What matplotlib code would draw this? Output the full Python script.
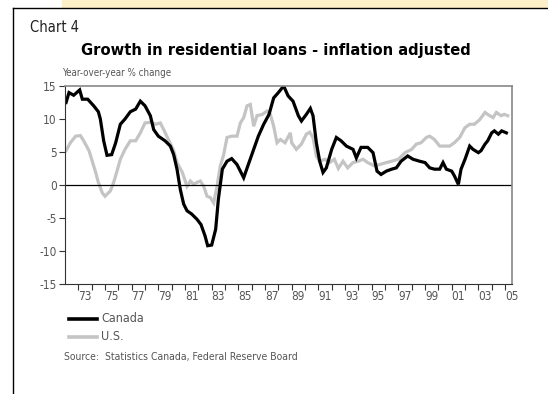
import matplotlib.pyplot as plt
from matplotlib.lines import Line2D

# données
can_years = [1972.08, 1972.3, 1972.65, 1973.1, 1973.3, 1973.7, 1974.15, 1974.5, 1974.65, 1974.9,
             1975.15, 1975.5, 1975.8, 1976.15, 1976.5, 1976.9, 1977.3, 1977.65, 1978.0, 1978.4,
             1978.65, 1979.0, 1979.5, 1979.9, 1980.15, 1980.4, 1980.65, 1980.9, 1981.15, 1981.5,
             1981.9, 1982.2, 1982.5, 1982.7, 1983.0, 1983.3, 1983.5, 1983.8, 1984.15, 1984.5,
             1984.9, 1985.4, 1985.8, 1986.15, 1986.5, 1986.9, 1987.3, 1987.65, 1988.0, 1988.4,
             1988.73, 1989.1, 1989.5, 1989.73, 1990.1, 1990.4, 1990.6, 1990.85, 1991.1, 1991.35,
             1991.6, 1992.0, 1992.35, 1992.7, 1993.1, 1993.6, 1993.85, 1994.2, 1994.7, 1995.1,
             1995.4, 1995.7, 1996.1, 1996.5, 1996.85, 1997.2, 1997.7, 1998.1, 1998.6, 1999.0,
             1999.35, 1999.7, 2000.1, 2000.35, 2000.6, 2001.0, 2001.2, 2001.5, 2001.7, 2002.0,
             2002.35, 2002.6, 2003.0, 2003.2, 2003.5, 2003.7, 2004.0, 2004.2, 2004.5, 2004.75,
             2005.1]
can_values = [12.5, 14.0, 13.6, 14.4, 13.0, 13.0, 12.0, 11.1, 10.0, 6.7,
              4.5, 4.6, 6.4, 9.2, 10.0, 11.1, 11.5, 12.7, 12.0, 10.5,
              8.4, 7.4, 6.7, 5.9, 4.6, 2.4, -0.7, -2.9, -3.9, -4.4,
              -5.2, -6.0, -7.7, -9.2, -9.1, -6.7, -2.2, 2.4, 3.6, 4.0,
              3.1, 1.1, 3.4, 5.4, 7.4, 9.2, 10.7, 13.2, 14.0, 15.0,
              13.5, 12.7, 10.5, 9.7, 10.7, 11.6, 10.5, 6.4, 3.6, 1.9,
              2.6, 5.4, 7.2, 6.7, 5.9, 5.4, 4.1, 5.7, 5.7, 4.9,
              2.1, 1.6, 2.1, 2.4, 2.6, 3.6, 4.4, 3.9, 3.6, 3.4,
              2.6, 2.4, 2.4, 3.4, 2.4, 2.1, 1.4, 0.1, 2.4, 3.9,
              5.9, 5.4, 4.9, 5.2, 6.2, 6.7, 7.9, 8.2, 7.7, 8.2,
              7.9]

us_years = [1972.08, 1972.4, 1972.8, 1973.15, 1973.4, 1973.8, 1974.0, 1974.3, 1974.5, 1974.8,
            1975.0, 1975.4, 1975.65, 1975.9, 1976.15, 1976.5, 1976.9, 1977.3, 1977.65, 1978.0,
            1978.4, 1978.8, 1979.15, 1979.4, 1979.8, 1980.15, 1980.4, 1980.8, 1981.15, 1981.4,
            1981.65, 1981.9, 1982.15, 1982.4, 1982.65, 1982.9, 1983.15, 1983.4, 1983.65, 1983.9,
            1984.15, 1984.5, 1984.9, 1985.15, 1985.4, 1985.65, 1985.9, 1986.15, 1986.4, 1986.8,
            1987.15, 1987.4, 1987.65, 1987.9, 1988.15, 1988.5, 1988.9, 1989.0, 1989.35, 1989.73,
            1990.1, 1990.35, 1990.6, 1990.85, 1991.1, 1991.5, 1991.85, 1992.2, 1992.5, 1992.85,
            1993.2, 1993.6, 1994.0, 1994.35, 1994.7, 1995.2, 1995.6, 1996.1, 1996.5, 1997.0,
            1997.5, 1998.0, 1998.35, 1998.7, 1999.1, 1999.35, 1999.7, 2000.1, 2000.5, 2000.85,
            2001.2, 2001.6, 2002.0, 2002.35, 2002.7, 2003.1, 2003.5, 2003.7, 2004.1, 2004.35,
            2004.7, 2004.95, 2005.2]
us_values = [5.2, 6.4, 7.4, 7.5, 6.7, 5.2, 3.9, 1.9, 0.4, -1.2,
             -1.7, -0.9, 0.4, 2.1, 3.9, 5.4, 6.7, 6.7, 7.9, 9.4,
             9.5, 9.2, 9.4, 8.4, 6.7, 5.2, 3.4, 1.9, -0.2, 0.6,
             0.1, 0.4, 0.6, -0.2, -1.7, -1.9, -2.7, -0.2, 2.9, 4.6,
             7.2, 7.4, 7.4, 9.4, 10.2, 12.0, 12.2, 8.9, 10.5, 10.7,
             11.2, 10.7, 8.9, 6.4, 6.9, 6.4, 7.9, 6.4, 5.4, 6.2,
             7.7, 8.0, 7.2, 4.4, 3.6, 3.9, 3.4, 3.9, 2.5, 3.6,
             2.6, 3.4, 3.6, 3.9, 3.4, 2.9, 3.1, 3.4, 3.6, 3.9,
             4.9, 5.4, 6.2, 6.4, 7.2, 7.4, 6.9, 5.9, 5.9, 5.9,
             6.4, 7.2, 8.7, 9.2, 9.2, 9.9, 11.0, 10.7, 10.2, 11.0,
             10.5, 10.7, 10.5]

yticks = [-15, -10, -5, 0, 5, 10, 15]
year_labels = ['73', '75', '77', '79', '81', '83', '85', '87', '89', '91',
               '93', '95', '97', '99', '01', '03', '05']

# police étroite, comme l'original
plt.rcParams['font.family'] = ['DejaVu Sans']
plt.rcParams['font.stretch'] = 'condensed'

fig = plt.figure(figsize=(5.48, 3.94), dpi=100)

# cadre et bandeau jaune en haut
fig.patches.append(plt.Rectangle((62 / 548, 1 - 7 / 394), 1, 7 / 394,
                                 transform=fig.transFigure, color='#fdf0c8', zorder=0))
fig.add_artist(Line2D([13 / 548, 13 / 548], [0, 1 - 8 / 394], color='black', lw=1.0))
fig.add_artist(Line2D([13 / 548, 1], [1 - 8 / 394, 1 - 8 / 394], color='black', lw=1.0))

ax = fig.add_axes([65 / 548, 1 - 284 / 394, (511.7 - 65) / 548, (284 - 86) / 394])

ax.plot(us_years, us_values, color='#c4c4c4', lw=2.3, solid_joinstyle='miter')
ax.plot(can_years, can_values, color='black', lw=2.3, solid_joinstyle='miter')
ax.axhline(0, color='black', lw=0.9)

ax.set_xlim(1972, 2005.5)
ax.set_ylim(-15, 15)
ax.set_yticks(yticks)
ax.set_yticklabels([str(v) for v in yticks])

# traits aux frontières d'année, étiquettes au milieu des années impaires
ax.set_xticks(range(1973, 2006))
ax.set_xticklabels([])
ax.set_xticks([1973.5 + 2 * i for i in range(len(year_labels))], minor=True)
ax.set_xticklabels(year_labels, minor=True)
ax.tick_params(axis='x', which='major', direction='out', length=4, width=0.8, color='#333333')
ax.tick_params(axis='x', which='minor', length=0, pad=4, labelsize=8.5, labelcolor='#555555')
ax.tick_params(axis='y', direction='out', length=4, width=0.8, color='#333333',
               labelsize=8.5, labelcolor='#555555', pad=2)

for side in ['left', 'bottom']:
    ax.spines[side].set_color('#333333')
for side in ['top', 'right']:
    ax.spines[side].set_color('#888888')
    ax.spines[side].set_linewidth(1.2)

# textes
fig.text(30 / 548, 1 - 27 / 394, 'Chart 4', fontsize=10.5, color='#222222', va='center')
fig.text(276 / 548, 1 - 50 / 394, 'Growth in residential loans - inflation adjusted',
         fontsize=11.8, fontweight='bold', ha='center', va='center')
fig.text(62 / 548, 1 - 73 / 394, 'Year-over-year % change', fontsize=7,
         color='#555555', va='center')

# légende dessinée à la main
fig.add_artist(Line2D([69 / 548, 97 / 548], [1 - 319 / 394] * 2, color='black', lw=2.6))
fig.add_artist(Line2D([69 / 548, 97 / 548], [1 - 337 / 394] * 2, color='#c4c4c4', lw=2.6))
fig.text(101 / 548, 1 - 319 / 394, 'Canada', fontsize=9, color='#555555', va='center')
fig.text(101 / 548, 1 - 337 / 394, 'U.S.', fontsize=9, color='#555555', va='center')
fig.text(64 / 548, 1 - 357 / 394, 'Source:  Statistics Canada, Federal Reserve Board',
         fontsize=7.5, color='#555555', va='center')

fig.savefig('out.png', dpi=100)
